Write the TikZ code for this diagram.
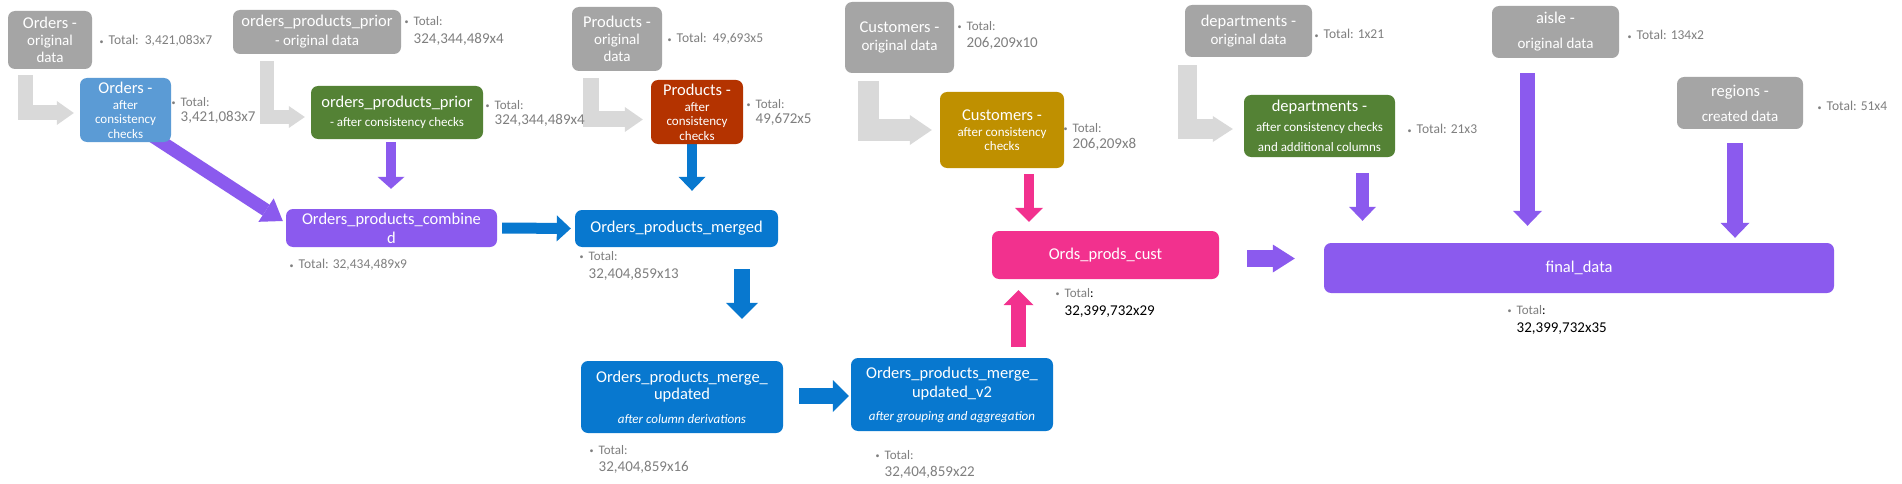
\documentclass[tikz,border=0pt]{standalone}
\usepackage{fontspec}
\setmainfont{Carlito}
\usetikzlibrary{arrows.meta,calc}
\definecolor{cgray}{HTML}{A5A5A5}
\definecolor{clight}{HTML}{D9D9D9}
\definecolor{cltblue}{HTML}{5B9BD5}
\definecolor{cgreen}{HTML}{548235}
\definecolor{crust}{HTML}{B43300}
\definecolor{cblue}{HTML}{0878CF}
\definecolor{cpurple}{HTML}{8B5AEE}
\definecolor{cgold}{HTML}{BF9000}
\definecolor{cpink}{HTML}{F2318E}
\definecolor{ctot}{HTML}{7F7F7F}
\newcommand\ttl[1]{{\fontsize{16.5}{17}\selectfont #1}}
\newcommand\bul{\raisebox{0.5pt}{\fontsize{8}{8}\selectfont\textbullet}\hspace{5pt}}
\newcommand\totnum[1]{{\fontsize{15}{16}\selectfont #1}}
\pgfdeclarelayer{bg}
\pgfsetlayers{bg,main}
\tikzset{
  bx/.style={rounded corners=7pt, inner sep=0pt, align=center, text=white},
  blk/.style n args={4}{draw=#1, line width=#2, -{Triangle[width=#3,length=#4,line width=0pt]}},
  totone/.style={anchor=west, inner sep=0pt, text=ctot, font=\fontsize{13.5}{15}\selectfont},
  tottwo/.style={anchor=north west, inner sep=0pt, align=left, text=ctot, font=\fontsize{13}{#1}\selectfont},
}
\begin{document}
\begin{tikzpicture}[x=1pt,y=-1pt]
\useasboundingbox (0,0) rectangle (1902,484);
% ---------- boxes ----------
\node[bx, fill=cgray, minimum width=84pt, minimum height=58pt, font=\fontsize{15}{17}\selectfont] (oOrig) at (50,40) {\ttl{Orders -}\\original\\data};
\node[bx, fill=cltblue, minimum width=91pt, minimum height=64pt, font=\fontsize{13}{14.5}\selectfont] (oAfter) at (125.5,110) {\ttl{Orders -}\\[1.5pt]after\\consistency\\checks};
\node[bx, fill=cgray, minimum width=168pt, minimum height=44pt, font=\fontsize{15}{19}\selectfont] (oppOrig) at (317,32) {\ttl{orders\_products\_prior}\\- original data};
\node[bx, fill=cgreen, minimum width=172pt, minimum height=53pt, font=\fontsize{13}{19}\selectfont] (oppAfter) at (397,112.5) {\ttl{orders\_products\_prior}\\- after consistency checks};
\node[bx, fill=cgray, minimum width=90pt, minimum height=64pt, font=\fontsize{15}{17}\selectfont] (pOrig) at (617,39) {\ttl{Products -}\\original\\data};
\node[bx, fill=crust, minimum width=92pt, minimum height=64pt, font=\fontsize{13}{14.5}\selectfont] (pAfter) at (697,112) {\ttl{Products -}\\[1.5pt]after\\consistency\\checks};
\node[bx, fill=cgray, minimum width=109pt, minimum height=71pt, font=\fontsize{15}{18}\selectfont] (cOrig) at (899.5,37.5) {\ttl{Customers -}\\original data};
\node[bx, fill=cgold, minimum width=124pt, minimum height=76pt, font=\fontsize{13}{14.5}\selectfont] (cAfter) at (1002,130) {\ttl{Customers -}\\[1.5pt]after consistency\\checks};
\node[bx, fill=cgray, minimum width=127pt, minimum height=52pt, font=\fontsize{15}{18}\selectfont] (dOrig) at (1248.5,31) {\ttl{departments -}\\original data};
\node[bx, fill=cgreen, minimum width=151pt, minimum height=62pt, font=\fontsize{13}{20}\selectfont] (dAfter) at (1319.5,126) {\ttl{departments -}\\after consistency checks\\and additional columns};
\node[bx, fill=cgray, minimum width=127pt, minimum height=52pt, font=\fontsize{15}{25}\selectfont] (aisle) at (1555.5,32) {\ttl{aisle -}\\original data};
\node[bx, fill=cgray, minimum width=126pt, minimum height=52pt, font=\fontsize{15}{25}\selectfont] (regions) at (1740,103) {\ttl{regions -}\\created data};
\node[bx, fill=cpurple, minimum width=211pt, minimum height=38pt, font=\fontsize{16.5}{19}\selectfont] (combined) at (391.5,228) {Orders\_products\_combine\\d};
\node[bx, fill=cblue, minimum width=203pt, minimum height=37pt, font=\fontsize{16.5}{19}\selectfont] (merged) at (676.5,228.5) {Orders\_products\_merged};
\node[bx, fill=cblue, minimum width=202pt, minimum height=72pt, font=\fontsize{16.5}{17}\selectfont] (mUpd) at (682,397) {Orders\_products\_merge\_\\updated\\[7pt]{\fontsize{13}{14}\selectfont\itshape after column derivations}};
\node[bx, fill=cblue, minimum width=202pt, minimum height=73pt, font=\fontsize{16.5}{19}\selectfont] (mUpd2) at (952,394.5) {Orders\_products\_merge\_\\updated\_v2\\[4pt]{\fontsize{13}{14}\selectfont\itshape after grouping and aggregation}};
\node[bx, fill=cpink, minimum width=227pt, minimum height=48pt, font=\fontsize{16.5}{19}\selectfont] (opc) at (1105.5,255) {Ords\_prods\_cust};
\node[bx, fill=cpurple, minimum width=510pt, minimum height=50pt, font=\fontsize{16.5}{19}\selectfont] (final) at (1579,268) {final\_data};
% ---------- totals ----------
\node[totone] (t1) at (99.5,41) {\bul Total:\ \ 3,421,083x7};
\node[tottwo=15] (t2) at (171.5,97) {\bul Total:\\\hphantom{\bul}\totnum{3,421,083x7}};
\node[tottwo=18] (t3) at (404.5,16) {\bul Total:\\\hphantom{\bul}\totnum{324,344,489x4}};
\node[tottwo=15] (t4) at (485.5,100) {\bul Total:\\\hphantom{\bul}\totnum{324,344,489x4}};
\node[totone] (t5) at (667.5,39) {\bul Total:\ \ 49,693x5};
\node[tottwo=15] (t6) at (746.5,99) {\bul Total:\\\hphantom{\bul}\totnum{49,672x5}};
\node[tottwo=17] (t7) at (957.5,21) {\bul Total:\\\hphantom{\bul}\totnum{206,209x10}};
\node[tottwo=16] (t8) at (1063.5,123) {\bul Total:\\\hphantom{\bul}\totnum{206,209x8}};
\node[totone] (t9) at (1314.5,34) {\bul Total: 1x21};
\node[totone] (t10) at (1407.5,129) {\bul Total: 21x3};
\node[totone] (t11) at (1627.5,35) {\bul Total: 134x2};
\node[totone] (t12) at (1817.5,106) {\bul Total: 51x4};
\node[totone] (t13) at (289.5,265) {\bul Total: 32,434,489x9};
\node[tottwo=18] (t14) at (579.5,251) {\bul Total:\\\hphantom{\bul}\totnum{32,404,859x13}};
\node[tottwo=17] (t15) at (589.5,445) {\bul Total:\\\hphantom{\bul}\totnum{32,404,859x16}};
\node[tottwo=17] (t16) at (875.5,450) {\bul Total:\\\hphantom{\bul}\totnum{32,404,859x22}};
\node[tottwo=18] (t17) at (1055.5,288) {\bul Total\textcolor{black}{:}\\\hphantom{\bul}\textcolor{black}{\totnum{32,399,732x29}}};
\node[tottwo=18] (t18) at (1507.5,305) {\bul Total\textcolor{black}{:}\\\hphantom{\bul}\textcolor{black}{\totnum{32,399,732x35}}};
% ---------- connectors ----------
\begin{pgfonlayer}{bg}
\fill[white] (0,0) rectangle (1902,484);
% light grey elbow arrows
\draw[blk={clight}{15pt}{24pt}{17pt}] ($(oOrig.south west)+(18,6)$) |- ($(oAfter.west)+(-6,3)$);
\draw[blk={clight}{14pt}{22pt}{16pt}] ($(oppOrig.south west)+(34,7)$) |- ($(oppAfter.west)+(-6,4.5)$);
\draw[blk={clight}{16pt}{25pt}{18pt}] ($(pOrig.south west)+(19,7)$) |- ($(pAfter.west)+(-8,7.5)$);
\draw[blk={clight}{21pt}{30pt}{22pt}] ($(cOrig.south west)+(23.5,8)$) |- ($(cAfter.west)+(-8,0)$);
\draw[blk={clight}{19pt}{26pt}{20pt}] ($(dOrig.south west)+(2.5,8)$) |- ($(dAfter.west)+(-11,3)$);
% coloured block arrows
\draw[blk={cpurple}{13pt}{28pt}{20pt}] ($(oAfter.south)+(24,-8)$) -- ($(combined.west)+(-3,-7)$);
\draw[blk={cpurple}{10pt}{27pt}{12pt}] ($(oppAfter.south)+(-6,3)$) -- ($(combined.north)+(-0.5,-20)$);
\draw[blk={cblue}{10pt}{27pt}{14pt}] ($(pAfter.south)+(-5,0)$) -- ($(merged.north)+(15.5,-19)$);
\draw[blk={cblue}{11pt}{26pt}{14pt}] ($(combined.east)+(5,0)$) -- ($(merged.west)+(-4,0)$);
\draw[blk={cblue}{16pt}{32pt}{16pt}] ($(merged.south)+(65.5,22)$) -- ($(mUpd.north)+(60,-42)$);
\draw[blk={cblue}{16pt}{32pt}{16pt}] ($(mUpd.east)+(16,-1)$) -- ($(mUpd2.west)+(-2,1.5)$);
\draw[blk={cpink}{15pt}{30pt}{15pt}] ($(mUpd2.north)+(66.5,-11)$) -- ($(opc.south)+(-87,11)$);
\draw[blk={cpink}{10pt}{28pt}{14pt}] ($(cAfter.south)+(27,6)$) -- ($(opc.north)+(-76.5,-9)$);
\draw[blk={cpurple}{17pt}{28pt}{22pt}] ($(opc.east)+(28,3.5)$) -- ($(final.west)+(-29,-9.5)$);
\draw[blk={cpurple}{13pt}{27pt}{14pt}] ($(dAfter.south)+(43,16)$) -- ($(final.north)+(-216.5,-22)$);
\draw[blk={cpurple}{15pt}{29pt}{15pt}] ($(aisle.south)+(-28,15)$) -- ($(final.north)+(-51.5,-17)$);
\draw[blk={cpurple}{16pt}{29pt}{15pt}] ($(regions.south)+(-5,14)$) -- ($(final.north)+(156,-5)$);
\end{pgfonlayer}
\end{tikzpicture}
\end{document}
